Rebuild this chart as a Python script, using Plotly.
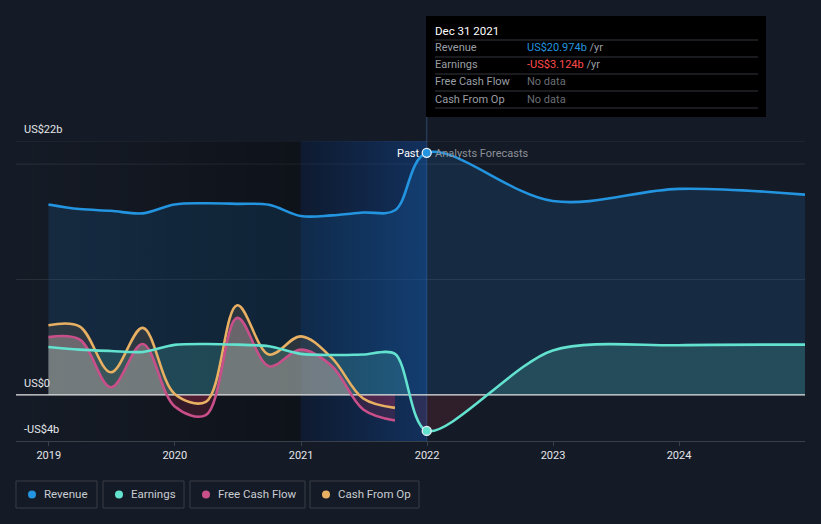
import plotly.graph_objects as go

# ---------------- data (US$ billions) ----------------
dates = ["2018-12-31", "2019-03-31", "2019-06-30", "2019-09-30", "2019-12-31",
         "2020-03-31", "2020-06-30", "2020-09-30", "2020-12-31", "2021-03-31",
         "2021-06-30", "2021-09-30", "2021-12-31", "2022-12-31", "2023-12-31",
         "2024-12-31"]
revenue = [16.5, 16.1, 15.95, 15.73, 16.5, 16.6, 16.55, 16.47, 15.5, 15.55,
           15.8, 16.0, 20.974, 16.8, 17.85, 17.35]
earnings = [4.15, 3.92, 3.8, 3.72, 4.33, 4.41, 4.35, 4.21, 3.55, 3.45,
            3.5, 3.55, -3.124, 3.85, 4.3, 4.35]
cf_dates = dates[:12]
free_cash_flow = [5.0, 4.8, 0.66, 4.41, -0.98, -1.76, 6.67, 2.48, 3.92, 2.5,
                  -1.27, -2.23]
cash_from_op = [6.03, 5.94, 1.96, 5.8, 0.1, -0.6, 7.76, 3.49, 5.07, 3.2,
                -0.32, -1.13]
year_ticks = ["2019-01-01", "2020-01-01", "2021-01-01", "2022-01-01",
              "2023-01-01", "2024-01-01"]
year_labels = ["2019", "2020", "2021", "2022", "2023", "2024"]
y_labels = ["US$22b", "US$0", "-US$4b"]
now_date = "2021-12-31"
x_start, x_end = "2018-09-28", "2024-12-31"
past_start = "2020-12-31"
Y0, Y1 = -4, 22

BG = "#151b26"
C_REV = "#2394df"
C_EARN = "#62e2cf"
C_FCF = "#c94f8a"
C_CFO = "#e8b062"
FONT = "Roboto"

W, H = 821, 524
L, R, T, B = 16, 16, 141, 83
PW, PH = W - L - R, H - T - B


def px(x):
    return (x - L) / PW


def py(y):
    return (H - B - y) / PH


fig = go.Figure()

# background shading: darker past region and highlighted last year
fig.add_trace(go.Scatter(
    x=[x_start, past_start, past_start, x_start, x_start],
    y=[Y0, Y0, Y1, Y1, Y0], mode="lines", line=dict(width=0),
    fill="toself", fillgradient=dict(type="horizontal",
                                     colorscale=[[0, "rgba(0,0,0,0)"], [1, "rgba(0,0,0,0.33)"]]),
    hoverinfo="skip", showlegend=False))
fig.add_trace(go.Scatter(
    x=[past_start, now_date, now_date, past_start, past_start],
    y=[Y0, Y0, Y1, Y1, Y0], mode="lines", line=dict(width=0),
    fill="toself", fillgradient=dict(type="horizontal",
                                     colorscale=[[0, "rgba(5,25,60,0.45)"], [1, "rgba(15,75,160,0.45)"]]),
    hoverinfo="skip", showlegend=False))

z = (0 - Y0) / (Y1 - Y0)


def vgrad(neg, pos):
    return dict(type="vertical", start=Y0, stop=Y1,
                colorscale=[[0, neg], [z, neg], [z + 1e-4, pos], [1, pos]])


SM = {"rev": 1.0, "earn": 0.85, "cf": 1.0}

# fills
fig.add_trace(go.Scatter(x=dates, y=revenue, mode="lines",
                         line=dict(width=0, shape="spline", smoothing=SM["rev"]),
                         fill="tozeroy", fillcolor="rgba(30,140,235,0.14)",
                         hoverinfo="skip", showlegend=False))
fig.add_trace(go.Scatter(x=dates, y=earnings, mode="lines",
                         line=dict(width=0, shape="spline", smoothing=SM["earn"]),
                         fill="tozeroy",
                         fillgradient=vgrad("rgba(190,50,70,0.15)", "rgba(98,226,207,0.18)"),
                         hoverinfo="skip", showlegend=False))
fig.add_trace(go.Scatter(x=cf_dates, y=cash_from_op, mode="lines",
                         line=dict(width=0, shape="spline", smoothing=SM["cf"]),
                         fill="tozeroy",
                         fillgradient=vgrad("rgba(190,40,80,0.2)", "rgba(232,176,98,0.12)"),
                         hoverinfo="skip", showlegend=False))
fig.add_trace(go.Scatter(x=cf_dates, y=free_cash_flow, mode="lines",
                         line=dict(width=0, shape="spline", smoothing=SM["cf"]),
                         fill="tozeroy",
                         fillgradient=vgrad("rgba(190,40,80,0.2)", "rgba(215,185,185,0.36)"),
                         hoverinfo="skip", showlegend=False))

# zero line
fig.add_trace(go.Scatter(x=[x_start, x_end], y=[0, 0], mode="lines",
                         line=dict(color="#e6e6e6", width=1.2),
                         hoverinfo="skip", showlegend=False))

# lines
for xs, ys, col, sm in [(cf_dates, cash_from_op, C_CFO, SM["cf"]),
                        (cf_dates, free_cash_flow, C_FCF, SM["cf"]),
                        (dates, earnings, C_EARN, SM["earn"]),
                        (dates, revenue, C_REV, SM["rev"])]:
    fig.add_trace(go.Scatter(x=xs, y=ys, mode="lines",
                             line=dict(color=col, width=2.6, shape="spline", smoothing=sm),
                             hoverinfo="skip", showlegend=False))

# markers at "now"
i_now = dates.index(now_date)
fig.add_trace(go.Scatter(x=[now_date, now_date], y=[revenue[i_now], earnings[i_now]],
                         mode="markers",
                         marker=dict(size=9, color=[C_REV, C_EARN],
                                     line=dict(color="#e8f0f8", width=1.3)),
                         hoverinfo="skip", showlegend=False))

shapes = []
# gridlines
for gy in [22, 20, 10]:
    shapes.append(dict(type="line", xref="paper", yref="y", x0=0, x1=1, y0=gy, y1=gy,
                       line=dict(color="#2b313c", width=1), layer="below"))
# vertical "now" line
shapes.append(dict(type="line", xref="x", yref="paper", x0=now_date, x1=now_date,
                   y0=0, y1=py(117), line=dict(color="rgba(60,100,150,0.6)", width=1),
                   layer="below"))
# tooltip box
shapes.append(dict(type="rect", xref="paper", yref="paper", x0=px(426), x1=px(766),
                   y0=py(117), y1=py(16), fillcolor="#000000", line=dict(width=0),
                   layer="above"))
for sy in [40, 57, 74, 91, 108]:
    shapes.append(dict(type="line", xref="paper", yref="paper", x0=px(435), x1=px(758),
                       y0=py(sy), y1=py(sy), line=dict(color="#34373d", width=1),
                       layer="above"))

annotations = []


def ann(text, x, y, color, size=11, xanchor="left", bold=False):
    annotations.append(dict(text=f"<b>{text}</b>" if bold else text, xref="paper", yref="paper",
                            x=px(x), y=py(y), xanchor=xanchor, yanchor="middle",
                            showarrow=False, font=dict(family=FONT, size=size, color=color)))


ann("Dec 31 2021", 433, 31, "#ffffff", 11.5)
rows = [("Revenue", f"<span style='color:{C_REV}'>US$20.974b</span> /yr"),
        ("Earnings", "<span style='color:#ff4b4b'>-US$3.124b</span> /yr"),
        ("Free Cash Flow", "<span style='color:#6a6e75'>No data</span>"),
        ("Cash From Op", "<span style='color:#6a6e75'>No data</span>")]
for k, (lab, val) in enumerate(rows):
    yy = 48 + 17 * k
    ann(lab, 433, yy, "#9a9ea5", 11)
    ann(val, 525, yy, "#9a9ea5", 11)

# axis value labels
for lab, yy in zip(y_labels, [129, 383, 429]):
    ann(lab, 22, yy, "#e4e6ea", 11)

ann("Past", 422, 153, "#ffffff", 11, xanchor="right")
ann("Analysts Forecasts", 433, 153, "#8c9098", 11)

# legend boxes
legend = [("Revenue", C_REV, 16, 97), ("Earnings", C_EARN, 103, 184),
          ("Free Cash Flow", C_FCF, 190, 305), ("Cash From Op", C_CFO, 310, 419)]
for lab, col, x0, x1 in legend:
    shapes.append(dict(type="rect", xref="paper", yref="paper", x0=px(x0), x1=px(x1),
                       y0=py(508), y1=py(481), line=dict(color="#383d46", width=1),
                       fillcolor="rgba(0,0,0,0)"))
    cx = x0 + 16
    shapes.append(dict(type="circle", xref="paper", yref="paper",
                       x0=px(cx - 4), x1=px(cx + 4), y0=py(498.5), y1=py(490.5),
                       fillcolor=col, line=dict(width=0)))
    ann(lab, x0 + 26, 494.5, "#c9ccd2", 11.5)

fig.update_layout(
    width=W, height=H, margin=dict(l=L, r=R, t=T, b=B),
    paper_bgcolor=BG, plot_bgcolor=BG,
    font=dict(family=FONT, color="#d8dbe0", size=11),
    showlegend=False, shapes=shapes, annotations=annotations,
    xaxis=dict(type="date", range=[x_start, x_end], tickvals=year_ticks, ticktext=year_labels,
               ticks="outside", ticklen=4, tickcolor="#3a404a", showgrid=False,
               zeroline=False, showline=True, linecolor="#3a404a", linewidth=1,
               tickfont=dict(family=FONT, size=11, color="#e4e6ea"), fixedrange=True),
    yaxis=dict(range=[Y0, Y1], showgrid=False, zeroline=False, showticklabels=False,
               fixedrange=True),
)

fig.write_html("out.html", config={"displayModeBar": False},
               post_script="document.body.style.margin='0';document.body.style.background='#151b26';")
